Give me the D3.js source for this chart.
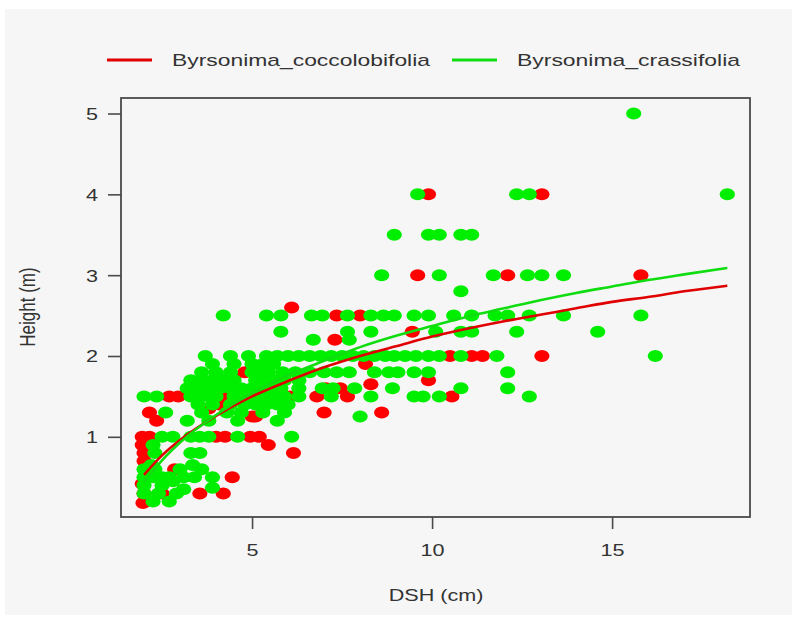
<!DOCTYPE html>
<html>
<head>
<meta charset="utf-8">
<script src="https://cdn.jsdelivr.net/npm/d3@7"></script>
<style>
  body { margin: 0; background: #ffffff; }
  svg { display: block; font-family: "Liberation Sans", Arial, sans-serif; }
</style>
</head>
<body>
<div id="chart"></div>
<script>
// values
const legendLabels = ["Byrsonima_coccolobifolia", "Byrsonima_crassifolia"];
const xTicks = [5, 10, 15];
const yTicks = [1, 2, 3, 4, 5];
const xLim = [1.36, 18.83];
const yLim = [0.008, 5.192];

// [DSH, Height]
const coccolobifolia = [
  [9.9,4],[13.05,4],
  [9.6,3],[12.1,3],[15.8,3],
  [6.1,2.6],[7.35,2.5],[8.0,2.5],
  [9.45,2.3],[7.3,2.2],
  [10.5,2],[11.1,2],[11.4,2],[13.05,2],
  [8.15,1.9],[4.8,1.8],[4.5,1.75],[9.9,1.7],[8.3,1.65],[7.45,1.6],[7.05,1.6],
  [2.7,1.5],[2.95,1.5],[4.2,1.5],[6.05,1.5],[6.8,1.5],[7.65,1.5],[10.55,1.5],
  [4.1,1.4],[3.8,1.35],[2.15,1.3],[7.0,1.3],[8.6,1.3],
  [2.35,1.2],[5.0,1.25],[5.1,1.25],
  [1.95,1.0],[2.15,1.0],[4.0,1.0],[4.25,1.0],[4.95,1.0],[5.2,1.0],
  [1.95,0.9],[5.45,0.9],[2.0,0.8],[2.2,0.85],[6.15,0.8],
  [2.0,0.7],[2.85,0.6],[4.45,0.5],
  [1.95,0.42],[2.5,0.3],[3.55,0.3],[4.2,0.3],[1.97,0.18],[2.0,0.3]
];

const crassifolia = [
  [15.6,5],
  [9.6,4],[12.35,4],[12.7,4],[18.2,4],
  [8.95,3.5],[9.9,3.5],[10.2,3.5],[10.8,3.5],[11.1,3.5],
  [8.6,3],[10.2,3],[11.7,3],[12.65,3],[13.05,3],[13.65,3],
  [10.8,2.8],
  [4.2,2.5],[5.4,2.5],[5.8,2.5],[6.65,2.5],[6.95,2.5],[7.65,2.5],[8.3,2.5],[8.65,2.5],[8.95,2.5],
  [9.5,2.5],[9.9,2.5],[10.6,2.5],[11.1,2.5],[11.75,2.5],[12.1,2.5],[12.7,2.5],[13.65,2.5],[15.8,2.5],
  [5.8,2.3],[7.65,2.3],[8.3,2.3],[10.1,2.3],[10.8,2.3],[11.1,2.3],[12.35,2.3],[14.6,2.3],
  [6.7,2.2],[7.7,2.2],
  [3.7,2],[4.4,2],[4.9,2],[5.4,2],[5.7,2],[6.0,2],[6.3,2],[6.6,2],[6.9,2],[7.2,2],[7.5,2],[7.8,2],
  [8.1,2],[8.4,2],[8.7,2],[8.95,2],[9.25,2],[9.55,2],[9.9,2],[10.2,2],[10.8,2],[11.8,2],[16.2,2],
  [3.9,1.9],[4.5,1.9],[5.0,1.9],[5.3,1.9],[5.6,1.9],
  [3.6,1.8],[4.0,1.8],[4.4,1.8],[5.0,1.8],[5.2,1.8],[5.45,1.8],[5.85,1.8],[6.2,1.8],[6.6,1.8],[7.0,1.8],
  [7.35,1.8],[7.7,1.8],[8.4,1.8],[8.8,1.8],[9.05,1.8],[9.5,1.8],[9.9,1.8],[12.1,1.8],
  [3.3,1.7],[3.6,1.7],[3.9,1.7],[4.2,1.7],[4.5,1.7],[5.1,1.7],[5.35,1.7],[5.6,1.7],[5.9,1.7],[6.3,1.7],
  [3.2,1.6],[3.5,1.6],[3.8,1.6],[4.1,1.6],[4.4,1.6],[4.7,1.6],[5.0,1.6],[5.25,1.6],[5.5,1.6],[5.8,1.6],
  [6.3,1.6],[6.95,1.6],[7.25,1.6],[7.85,1.6],[8.9,1.6],[10.8,1.6],[12.1,1.6],
  [2.0,1.5],[2.35,1.5],[3.3,1.5],[3.55,1.5],[3.8,1.5],[4.0,1.5],[4.5,1.5],[4.8,1.5],[5.0,1.5],[5.3,1.5],
  [5.6,1.5],[5.9,1.5],[6.3,1.5],[7.2,1.5],[8.3,1.5],[9.5,1.5],[9.75,1.5],[10.2,1.5],[12.7,1.5],
  [3.5,1.4],[3.9,1.4],[4.4,1.4],[4.8,1.4],[5.1,1.4],[5.4,1.4],[5.7,1.4],[6.0,1.4],
  [2.6,1.3],[3.6,1.3],[4.3,1.3],[4.7,1.3],[5.3,1.3],[5.9,1.3],
  [3.2,1.2],[3.8,1.2],[4.6,1.2],[5.7,1.2],[8.0,1.25],
  [2.5,1],[2.8,1],[3.3,1],[3.55,1],[3.8,1],[4.6,1],[6.1,1],
  [2.3,0.8],[3.3,0.8],[3.55,0.8],[2.25,0.9],
  [2.0,0.6],[2.0,0.5],[2.0,0.4],[2.0,0.3],[2.25,0.2],[2.25,0.5],[2.3,0.6],[2.5,0.5],[2.5,0.4],
  [2.7,0.2],[2.7,0.5],[2.8,0.45],[3.0,0.6],[3.1,0.5],[3.1,0.35],[3.35,0.65],[3.4,0.5],[3.6,0.6],
  [3.9,0.5],[3.9,0.37],[2.4,0.3],[2.2,0.65],[2.9,0.3]
];

// fitted curves, read at a few DSH values
const coccolobifoliaFit = [
  [2.0,0.53],[2.5,0.77],[3,0.96],[4,1.26],[5,1.5],[6,1.69],[7,1.86],[8,2.0],[9,2.12],
  [10,2.24],[11,2.34],[12,2.43],[13,2.51],[14,2.59],[15,2.67],[16,2.73],[17,2.8],[18.2,2.87]
];
const crassifoliaFit = [
  [2.0,0.44],[2.5,0.71],[3,0.93],[4,1.27],[5,1.54],[6,1.76],[7,1.94],[8,2.11],[9,2.25],
  [10,2.37],[11,2.49],[12,2.59],[13,2.69],[14,2.78],[15,2.86],[16,2.94],[17,3.01],[18.2,3.09]
];

const red = "#ff0000", green = "#00ee00";
const redLine = "#e00000", greenLine = "#10dd10";

function main(){
    let width = 792, height = 619;
    let left = 121, right = 750, top = 98, bottom = 517;
    let sx = 1.27; // the picture is stretched sideways

    let svg = d3.select("#chart").append("svg")
        .attr("width", width)
        .attr("height", height);

    svg.append("rect")
        .attr("x", 5).attr("y", 9)
        .attr("width", width - 5).attr("height", 606)
        .attr("fill", "#f6f6f6");

    let x = d3.scaleLinear().domain(xLim).range([left, right]);
    let y = d3.scaleLinear().domain(yLim).range([bottom, top]);

    let drawPoints = function(data, color){
        svg.append("g").selectAll("ellipse")
            .data(data)
            .enter()
            .append("ellipse")
            .attr("cx", function(d){ return x(d[0]); })
            .attr("cy", function(d){ return y(d[1]); })
            .attr("rx", 7.6)
            .attr("ry", 6)
            .attr("fill", color);
    };
    drawPoints(coccolobifolia, red);
    drawPoints(crassifolia, green);

    let line = d3.line()
        .x(function(d){ return x(d[0]); })
        .y(function(d){ return y(d[1]); })
        .curve(d3.curveMonotoneX);

    svg.append("path").datum(coccolobifoliaFit)
        .attr("d", line).attr("fill", "none")
        .attr("stroke", redLine).attr("stroke-width", 2.6);
    svg.append("path").datum(crassifoliaFit)
        .attr("d", line).attr("fill", "none")
        .attr("stroke", greenLine).attr("stroke-width", 2.6);

    // box
    svg.append("rect")
        .attr("x", left).attr("y", top)
        .attr("width", right - left).attr("height", bottom - top)
        .attr("fill", "none")
        .attr("stroke", "#4a4a4a")
        .attr("stroke-width", 1.8);

    let xAxis = svg.append("g")
        .attr("transform", "translate(0," + bottom + ")")
        .call(d3.axisBottom(x).tickValues(xTicks).tickSize(12).tickFormat(d3.format("d")));
    xAxis.select(".domain").remove();
    xAxis.selectAll("line").attr("stroke", "#4a4a4a").attr("stroke-width", 1.6);
    xAxis.selectAll("text")
        .attr("y", 33).attr("dy", "0.35em")
        .attr("fill", "#333")
        .attr("font-size", 17)
        .attr("transform", "scale(" + sx + ",1)");

    let yAxis = svg.append("g")
        .attr("transform", "translate(" + left + ",0)")
        .call(d3.axisLeft(y).tickValues(yTicks).tickSize(13).tickFormat(d3.format("d")));
    yAxis.select(".domain").remove();
    yAxis.selectAll("line").attr("stroke", "#4a4a4a").attr("stroke-width", 1.6);
    yAxis.selectAll("text")
        .attr("x", -29 / sx).attr("dy", "0.35em")
        .attr("text-anchor", "middle")
        .attr("fill", "#333")
        .attr("font-size", 17)
        .attr("transform", "scale(" + sx + ",1)");

    // axis titles
    svg.append("text")
        .attr("transform", "translate(436,595) scale(" + sx + ",1)")
        .attr("text-anchor", "middle")
        .attr("dy", "0.35em")
        .attr("font-size", 17)
        .attr("fill", "#333")
        .text("DSH (cm)");

    svg.append("text")
        .attr("transform", "translate(27,307) rotate(-90) scale(1," + sx + ")")
        .attr("text-anchor", "middle")
        .attr("dy", "0.35em")
        .attr("font-size", 17)
        .attr("fill", "#333")
        .text("Height (m)");

    // legend
    let legendX = [107, 452];
    let legendColors = [redLine, greenLine];
    let legendWidths = [258, 223];
    let legend = svg.append("g").attr("id", "legend");
    for(let i = 0; i < legendLabels.length; i++){
        legend.append("line")
            .attr("x1", legendX[i]).attr("x2", legendX[i] + 45)
            .attr("y1", 60).attr("y2", 60)
            .attr("stroke", legendColors[i])
            .attr("stroke-width", 3);
        legend.append("text")
            .attr("x", legendX[i] + 65).attr("y", 60)
            .attr("dy", "0.35em")
            .attr("font-size", 17)
            .attr("fill", "#333")
            .attr("textLength", legendWidths[i])
            .attr("lengthAdjust", "spacingAndGlyphs")
            .text(legendLabels[i]);
    }
}

main();
</script>
</body>
</html>
